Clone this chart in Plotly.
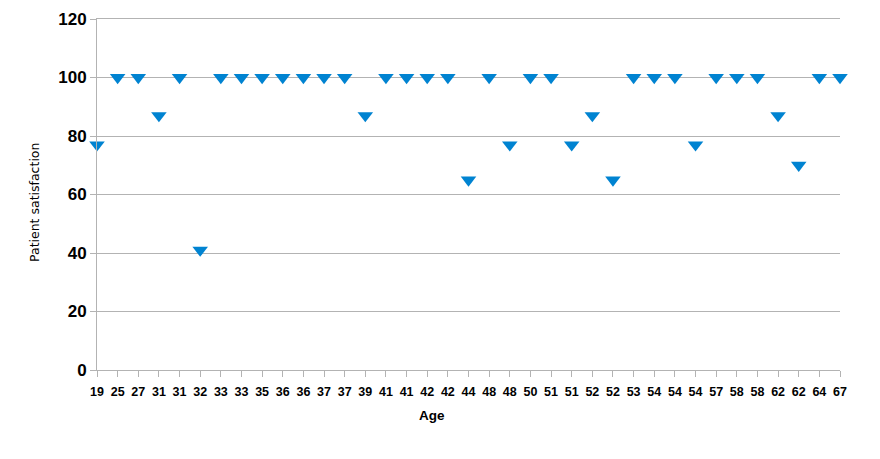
import plotly.graph_objects as go

ages = ["19","25","27","31","31","32","33","33","35","36","36","37","37","39","41","41","42","42","44",
        "48","48","50","51","51","52","52","53","54","54","54","57","58","58","62","62","64","67"]
satisfaction = [77,100,100,87,100,41,100,100,100,100,100,100,100,87,100,100,100,100,65,
                100,77,100,100,77,87,65,100,100,100,77,100,100,100,87,70,100,100]
y_ticks = [0,20,40,60,80,100,120]
x_title = "Age"
y_title = "Patient satisfaction"

idx = list(range(len(ages)))

fig = go.Figure(go.Scatter(
    x=idx, y=satisfaction, mode="markers",
    marker=dict(symbol="triangle-down", size=13.5, color="#0083d1", line=dict(width=0)),
    cliponaxis=False, showlegend=False,
))

fig.update_layout(
    width=872, height=451,
    margin=dict(l=89, r=40, t=11, b=89),
    paper_bgcolor="white", plot_bgcolor="white",
    font=dict(family="Liberation Sans, Arial, sans-serif", color="black"),
    xaxis=dict(
        tickmode="array", tickvals=idx, ticktext=ages, tickangle=0,
        range=[0, len(ages) - 1], automargin=False,
        showgrid=False, zeroline=False,
        showline=True, linecolor="#b3b3b3", linewidth=1, mirror=True,
        ticks="outside", ticklen=6, tickcolor="#b3b3b3", ticklabelstandoff=4,
        tickfont=dict(size=12.5, family="Liberation Sans, Arial, sans-serif", weight="bold"),
    ),
    yaxis=dict(
        tickmode="array", tickvals=y_ticks, range=[0, 120], automargin=False,
        showgrid=True, gridcolor="#b3b3b3", gridwidth=1, zeroline=False,
        showline=True, linecolor="#b3b3b3", linewidth=1,
        ticks="outside", ticklen=6, tickcolor="#b3b3b3",
        tickfont=dict(size=17, family="Liberation Sans, Arial, sans-serif", weight="bold"),
    ),
    annotations=[
        dict(text="<b>" + x_title + "</b>", xref="paper", yref="paper",
             x=0.451, y=-0.131, xanchor="center", yanchor="middle", showarrow=False,
             font=dict(size=13.5, family="Liberation Sans, Arial, sans-serif")),
        dict(text=y_title, xref="paper", yref="paper", textangle=-90,
             x=-0.0848, y=0.4786, xanchor="center", yanchor="middle", showarrow=False,
             font=dict(size=12.5, family="DejaVu Sans, sans-serif")),
    ],
)

fig.write_html("out.html")
